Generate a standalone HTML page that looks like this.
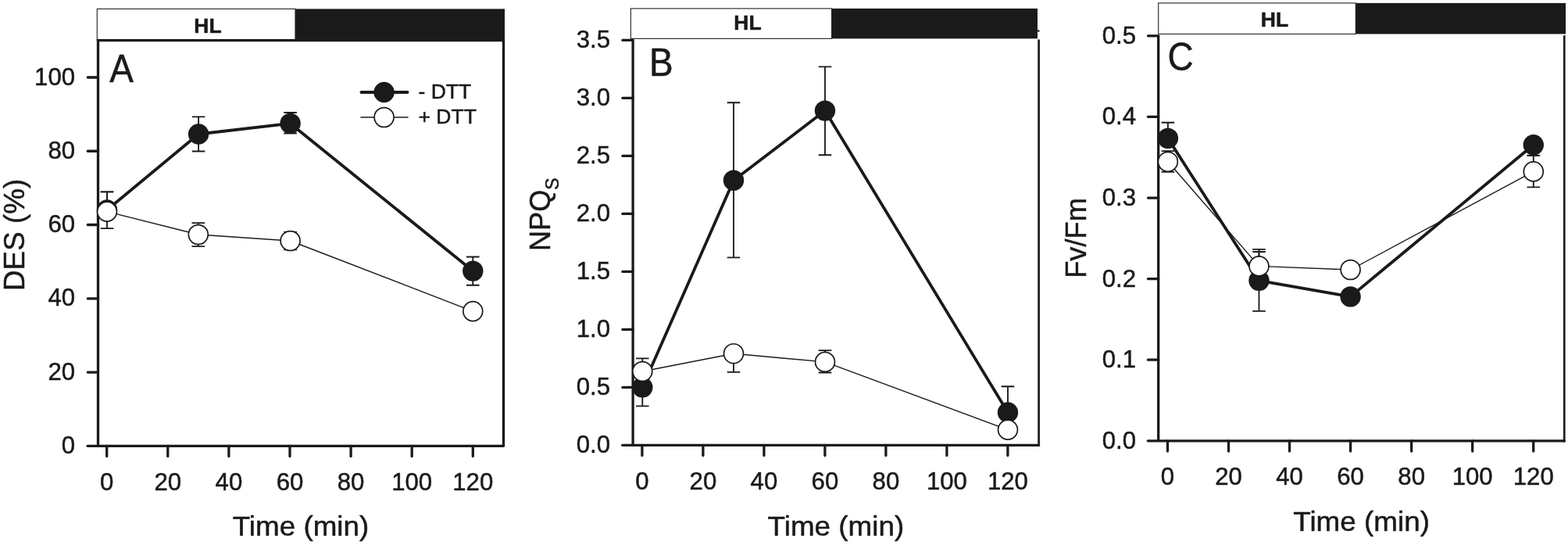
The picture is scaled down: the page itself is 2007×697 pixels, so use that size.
<!DOCTYPE html>
<html><head><meta charset="utf-8"><title>Figure</title>
<style>html,body{margin:0;padding:0;background:#fff;overflow:hidden}svg{display:block}text{font-family:"Liberation Sans",Arial,Helvetica,sans-serif;fill:#1a1a1a;stroke:#1a1a1a;stroke-width:.5px;stroke-linejoin:round}</style>
</head><body>
<svg width="2007" height="697" viewBox="0 0 2007 697">
<rect width="2007" height="697" fill="#fff"/>
<g>
<rect x="124.3" y="11.4" width="253.7" height="40.3" fill="#fff" stroke="#333" stroke-width="1.2"/>
<rect x="378" y="11.4" width="268" height="40.3" fill="#1a1a1a"/>
<text transform="translate(266 42.2) scale(1.02 1)" font-size="26" text-anchor="middle" font-weight="bold">HL</text>
<path d="M125.5 570.3 V51.7 H644.5 V570.3" fill="none" stroke="#1a1a1a" stroke-width="3.3" stroke-linejoin="miter"/>
<path d="M112.1 570.3 H644.5" fill="none" stroke="#1a1a1a" stroke-width="3.3" stroke-linecap="round"/>
<text transform="translate(96.1 579.8) scale(0.975 1)" font-size="32" text-anchor="end">0</text>
<path d="M112.3 476.04 H125.5" stroke="#1a1a1a" stroke-width="3.3" stroke-linecap="round"/>
<text transform="translate(96.1 485.54) scale(0.975 1)" font-size="32" text-anchor="end">20</text>
<path d="M112.3 381.78 H125.5" stroke="#1a1a1a" stroke-width="3.3" stroke-linecap="round"/>
<text transform="translate(96.1 391.28) scale(0.975 1)" font-size="32" text-anchor="end">40</text>
<path d="M112.3 287.52 H125.5" stroke="#1a1a1a" stroke-width="3.3" stroke-linecap="round"/>
<text transform="translate(96.1 297.02) scale(0.975 1)" font-size="32" text-anchor="end">60</text>
<path d="M112.3 193.26 H125.5" stroke="#1a1a1a" stroke-width="3.3" stroke-linecap="round"/>
<text transform="translate(96.1 202.76) scale(0.975 1)" font-size="32" text-anchor="end">80</text>
<path d="M112.3 99 H125.5" stroke="#1a1a1a" stroke-width="3.3" stroke-linecap="round"/>
<text transform="translate(96.1 108.5) scale(0.975 1)" font-size="32" text-anchor="end">100</text>
<path d="M136.7 570.3 V583.5" stroke="#1a1a1a" stroke-width="3.3" stroke-linecap="round"/>
<text transform="translate(136.7 627) scale(0.975 1)" font-size="32" text-anchor="middle">0</text>
<path d="M214.8 570.3 V583.5" stroke="#1a1a1a" stroke-width="3.3" stroke-linecap="round"/>
<text transform="translate(214.8 627) scale(0.975 1)" font-size="32" text-anchor="middle">20</text>
<path d="M292.9 570.3 V583.5" stroke="#1a1a1a" stroke-width="3.3" stroke-linecap="round"/>
<text transform="translate(292.9 627) scale(0.975 1)" font-size="32" text-anchor="middle">40</text>
<path d="M371 570.3 V583.5" stroke="#1a1a1a" stroke-width="3.3" stroke-linecap="round"/>
<text transform="translate(371 627) scale(0.975 1)" font-size="32" text-anchor="middle">60</text>
<path d="M449.1 570.3 V583.5" stroke="#1a1a1a" stroke-width="3.3" stroke-linecap="round"/>
<text transform="translate(449.1 627) scale(0.975 1)" font-size="32" text-anchor="middle">80</text>
<path d="M527.2 570.3 V583.5" stroke="#1a1a1a" stroke-width="3.3" stroke-linecap="round"/>
<text transform="translate(527.2 627) scale(0.975 1)" font-size="32" text-anchor="middle">100</text>
<path d="M605.3 570.3 V583.5" stroke="#1a1a1a" stroke-width="3.3" stroke-linecap="round"/>
<text transform="translate(605.3 627) scale(0.975 1)" font-size="32" text-anchor="middle">120</text>
<text transform="translate(385 685.4) scale(1.035 1)" font-size="35.6" text-anchor="middle">Time (min)</text>
<text transform="translate(30.8 372) rotate(-90) scale(0.977 1)" font-size="37.7">DES (%)</text>
<text transform="translate(140.3 105.2) scale(0.92 1)" font-size="50" stroke-width="0.2">A</text>
<path d="M137 268.5 L254.1 171.5 L371.6 157.9 L605.3 346.6" fill="none" stroke="#1a1a1a" stroke-width="3.8" stroke-linejoin="round" stroke-linecap="round"/>
<path d="M137 268.5 V245.4 M128.7 245.4 H145.3" fill="none" stroke="#1a1a1a" stroke-width="1.85"/>
<path d="M254.1 171.5 V149.4 M245.8 149.4 H262.4" fill="none" stroke="#1a1a1a" stroke-width="1.85"/>
<path d="M254.1 171.5 V193.5 M245.8 193.5 H262.4" fill="none" stroke="#1a1a1a" stroke-width="1.85"/>
<path d="M371.6 157.9 V144 M363.3 144 H379.9" fill="none" stroke="#1a1a1a" stroke-width="1.85"/>
<path d="M371.6 157.9 V170.5 M363.3 170.5 H379.9" fill="none" stroke="#1a1a1a" stroke-width="1.85"/>
<path d="M605.3 346.6 V328.5 M597 328.5 H613.6" fill="none" stroke="#1a1a1a" stroke-width="1.85"/>
<path d="M605.3 346.6 V364.7 M597 364.7 H613.6" fill="none" stroke="#1a1a1a" stroke-width="1.85"/>
<circle cx="137" cy="268.5" r="13.2" fill="#1a1a1a"/>
<circle cx="254.1" cy="171.5" r="13.2" fill="#1a1a1a"/>
<circle cx="371.6" cy="157.9" r="13.2" fill="#1a1a1a"/>
<circle cx="605.3" cy="346.6" r="13.2" fill="#1a1a1a"/>
<path d="M137 270.6 L253.8 300 L371.6 308 L605.3 398.1" fill="none" stroke="#1a1a1a" stroke-width="1.4" stroke-linejoin="round" stroke-linecap="round"/>
<path d="M137 270.6 V245.4 M128.7 245.4 H145.3" fill="none" stroke="#1a1a1a" stroke-width="1.85"/>
<path d="M137 270.6 V292.1 M128.7 292.1 H145.3" fill="none" stroke="#1a1a1a" stroke-width="1.85"/>
<path d="M253.8 300 V285.1 M245.5 285.1 H262.1" fill="none" stroke="#1a1a1a" stroke-width="1.85"/>
<path d="M253.8 300 V315.1 M245.5 315.1 H262.1" fill="none" stroke="#1a1a1a" stroke-width="1.85"/>
<path d="M371.6 308 V296.7 M363.3 296.7 H379.9" fill="none" stroke="#1a1a1a" stroke-width="1.85"/>
<path d="M371.6 308 V319.4 M363.3 319.4 H379.9" fill="none" stroke="#1a1a1a" stroke-width="1.85"/>
<circle cx="137" cy="270.6" r="12.45" fill="#fff" stroke="#1a1a1a" stroke-width="1.7"/>
<circle cx="253.8" cy="300" r="12.45" fill="#fff" stroke="#1a1a1a" stroke-width="1.7"/>
<circle cx="371.6" cy="308" r="12.45" fill="#fff" stroke="#1a1a1a" stroke-width="1.7"/>
<circle cx="605.3" cy="398.1" r="12.45" fill="#fff" stroke="#1a1a1a" stroke-width="1.7"/>
</g>
<g>
<rect x="807.4" y="10.9" width="257.2" height="38.5" fill="#fff" stroke="#333" stroke-width="1.2"/>
<rect x="1064.6" y="10.9" width="263.4" height="38.5" fill="#1a1a1a"/>
<text transform="translate(957 38.1) scale(1.02 1)" font-size="26" text-anchor="middle" font-weight="bold">HL</text>
<path d="M810.1 569.4 V50.5" fill="none" stroke="#1a1a1a" stroke-width="3.3"/>
<path d="M1329.6 571.05 V50.5" fill="none" stroke="#1a1a1a" stroke-width="2.7"/>
<path d="M796.7 569.4 H1329.6" fill="none" stroke="#1a1a1a" stroke-width="3.3" stroke-linecap="round"/>
<text transform="translate(781 578.7) scale(0.975 1)" font-size="32" text-anchor="end">0.0</text>
<path d="M796.9 495.4 H810.1" stroke="#1a1a1a" stroke-width="3.3" stroke-linecap="round"/>
<text transform="translate(781 504.7) scale(0.975 1)" font-size="32" text-anchor="end">0.5</text>
<path d="M796.9 421.4 H810.1" stroke="#1a1a1a" stroke-width="3.3" stroke-linecap="round"/>
<text transform="translate(781 430.7) scale(0.975 1)" font-size="32" text-anchor="end">1.0</text>
<path d="M796.9 347.4 H810.1" stroke="#1a1a1a" stroke-width="3.3" stroke-linecap="round"/>
<text transform="translate(781 356.7) scale(0.975 1)" font-size="32" text-anchor="end">1.5</text>
<path d="M796.9 273.4 H810.1" stroke="#1a1a1a" stroke-width="3.3" stroke-linecap="round"/>
<text transform="translate(781 282.7) scale(0.975 1)" font-size="32" text-anchor="end">2.0</text>
<path d="M796.9 199.4 H810.1" stroke="#1a1a1a" stroke-width="3.3" stroke-linecap="round"/>
<text transform="translate(781 208.7) scale(0.975 1)" font-size="32" text-anchor="end">2.5</text>
<path d="M796.9 125.4 H810.1" stroke="#1a1a1a" stroke-width="3.3" stroke-linecap="round"/>
<text transform="translate(781 134.7) scale(0.975 1)" font-size="32" text-anchor="end">3.0</text>
<path d="M796.9 51.4 H810.1" stroke="#1a1a1a" stroke-width="3.3" stroke-linecap="round"/>
<text transform="translate(781 60.7) scale(0.975 1)" font-size="32" text-anchor="end">3.5</text>
<path d="M821.9 569.4 V582.6" stroke="#1a1a1a" stroke-width="3.3" stroke-linecap="round"/>
<text transform="translate(821.9 625.8) scale(0.975 1)" font-size="32" text-anchor="middle">0</text>
<path d="M899.9 569.4 V582.6" stroke="#1a1a1a" stroke-width="3.3" stroke-linecap="round"/>
<text transform="translate(899.9 625.8) scale(0.975 1)" font-size="32" text-anchor="middle">20</text>
<path d="M977.9 569.4 V582.6" stroke="#1a1a1a" stroke-width="3.3" stroke-linecap="round"/>
<text transform="translate(977.9 625.8) scale(0.975 1)" font-size="32" text-anchor="middle">40</text>
<path d="M1055.9 569.4 V582.6" stroke="#1a1a1a" stroke-width="3.3" stroke-linecap="round"/>
<text transform="translate(1055.9 625.8) scale(0.975 1)" font-size="32" text-anchor="middle">60</text>
<path d="M1133.9 569.4 V582.6" stroke="#1a1a1a" stroke-width="3.3" stroke-linecap="round"/>
<text transform="translate(1133.9 625.8) scale(0.975 1)" font-size="32" text-anchor="middle">80</text>
<path d="M1211.9 569.4 V582.6" stroke="#1a1a1a" stroke-width="3.3" stroke-linecap="round"/>
<text transform="translate(1211.9 625.8) scale(0.975 1)" font-size="32" text-anchor="middle">100</text>
<path d="M1289.9 569.4 V582.6" stroke="#1a1a1a" stroke-width="3.3" stroke-linecap="round"/>
<text transform="translate(1289.9 625.8) scale(0.975 1)" font-size="32" text-anchor="middle">120</text>
<text transform="translate(1069.9 684.9) scale(1.035 1)" font-size="35.6" text-anchor="middle">Time (min)</text>
<text transform="translate(703.9 321) rotate(-90) scale(0.958 1)" font-size="37.7">NPQ<tspan font-size="24" dy="11">S</tspan></text>
<text transform="translate(831 97.3) scale(0.92 1)" font-size="50" stroke-width="0.2">B</text>
<path d="M822.3 495.3 L939 230.7 L1056 141.6 L1290 527.5" fill="none" stroke="#1a1a1a" stroke-width="3.8" stroke-linejoin="round" stroke-linecap="round"/>
<path d="M822.3 495.3 V519.3 M814 519.3 H830.6" fill="none" stroke="#1a1a1a" stroke-width="1.85"/>
<path d="M939 230.7 V131.2 M930.7 131.2 H947.3" fill="none" stroke="#1a1a1a" stroke-width="1.85"/>
<path d="M939 230.7 V329.3 M930.7 329.3 H947.3" fill="none" stroke="#1a1a1a" stroke-width="1.85"/>
<path d="M1056 141.6 V85.3 M1047.7 85.3 H1064.3" fill="none" stroke="#1a1a1a" stroke-width="1.85"/>
<path d="M1056 141.6 V198.2 M1047.7 198.2 H1064.3" fill="none" stroke="#1a1a1a" stroke-width="1.85"/>
<path d="M1290 527.5 V494.2 M1281.7 494.2 H1298.3" fill="none" stroke="#1a1a1a" stroke-width="1.85"/>
<circle cx="822.3" cy="495.3" r="13.2" fill="#1a1a1a"/>
<circle cx="939" cy="230.7" r="13.2" fill="#1a1a1a"/>
<circle cx="1056" cy="141.6" r="13.2" fill="#1a1a1a"/>
<circle cx="1290" cy="527.5" r="13.2" fill="#1a1a1a"/>
<path d="M822.3 475 L939 452.2 L1056 462.9 L1290 549.6" fill="none" stroke="#1a1a1a" stroke-width="1.4" stroke-linejoin="round" stroke-linecap="round"/>
<path d="M822.3 475 V458.4 M814 458.4 H830.6" fill="none" stroke="#1a1a1a" stroke-width="1.85"/>
<path d="M939 452.2 V475.8 M930.7 475.8 H947.3" fill="none" stroke="#1a1a1a" stroke-width="1.85"/>
<path d="M1056 462.9 V448.1 M1047.7 448.1 H1064.3" fill="none" stroke="#1a1a1a" stroke-width="1.85"/>
<path d="M1056 462.9 V476.5 M1047.7 476.5 H1064.3" fill="none" stroke="#1a1a1a" stroke-width="1.85"/>
<circle cx="822.3" cy="475" r="12.45" fill="#fff" stroke="#1a1a1a" stroke-width="1.7"/>
<circle cx="939" cy="452.2" r="12.45" fill="#fff" stroke="#1a1a1a" stroke-width="1.7"/>
<circle cx="1056" cy="462.9" r="12.45" fill="#fff" stroke="#1a1a1a" stroke-width="1.7"/>
<circle cx="1290" cy="549.6" r="12.45" fill="#fff" stroke="#1a1a1a" stroke-width="1.7"/>
</g>
<g>
<rect x="1482.7" y="3.9" width="252.6" height="39.6" fill="#fff" stroke="#333" stroke-width="1.2"/>
<rect x="1735.3" y="3.9" width="268.7" height="39.6" fill="#1a1a1a"/>
<text transform="translate(1631.5 34.1) scale(1.02 1)" font-size="26" text-anchor="middle" font-weight="bold">HL</text>
<path d="M1482.7 563.8 V45.3" fill="none" stroke="#1a1a1a" stroke-width="3.3"/>
<path d="M2002.3 565.45 V45.3" fill="none" stroke="#1a1a1a" stroke-width="2.6"/>
<path d="M1469.3 563.8 H2002.3" fill="none" stroke="#1a1a1a" stroke-width="3.3" stroke-linecap="round"/>
<text transform="translate(1454 573.8) scale(0.975 1)" font-size="32" text-anchor="end">0.0</text>
<path d="M1469.5 460.21 H1482.7" stroke="#1a1a1a" stroke-width="3.3" stroke-linecap="round"/>
<text transform="translate(1454 470.21) scale(0.975 1)" font-size="32" text-anchor="end">0.1</text>
<path d="M1469.5 356.62 H1482.7" stroke="#1a1a1a" stroke-width="3.3" stroke-linecap="round"/>
<text transform="translate(1454 366.62) scale(0.975 1)" font-size="32" text-anchor="end">0.2</text>
<path d="M1469.5 253.03 H1482.7" stroke="#1a1a1a" stroke-width="3.3" stroke-linecap="round"/>
<text transform="translate(1454 263.03) scale(0.975 1)" font-size="32" text-anchor="end">0.3</text>
<path d="M1469.5 149.44 H1482.7" stroke="#1a1a1a" stroke-width="3.3" stroke-linecap="round"/>
<text transform="translate(1454 159.44) scale(0.975 1)" font-size="32" text-anchor="end">0.4</text>
<path d="M1469.5 45.85 H1482.7" stroke="#1a1a1a" stroke-width="3.3" stroke-linecap="round"/>
<text transform="translate(1454 55.85) scale(0.975 1)" font-size="32" text-anchor="end">0.5</text>
<path d="M1494.5 563.8 V577" stroke="#1a1a1a" stroke-width="3.3" stroke-linecap="round"/>
<text transform="translate(1494.5 619.8) scale(0.975 1)" font-size="32" text-anchor="middle">0</text>
<path d="M1572.54 563.8 V577" stroke="#1a1a1a" stroke-width="3.3" stroke-linecap="round"/>
<text transform="translate(1572.54 619.8) scale(0.975 1)" font-size="32" text-anchor="middle">20</text>
<path d="M1650.58 563.8 V577" stroke="#1a1a1a" stroke-width="3.3" stroke-linecap="round"/>
<text transform="translate(1650.58 619.8) scale(0.975 1)" font-size="32" text-anchor="middle">40</text>
<path d="M1728.62 563.8 V577" stroke="#1a1a1a" stroke-width="3.3" stroke-linecap="round"/>
<text transform="translate(1728.62 619.8) scale(0.975 1)" font-size="32" text-anchor="middle">60</text>
<path d="M1806.66 563.8 V577" stroke="#1a1a1a" stroke-width="3.3" stroke-linecap="round"/>
<text transform="translate(1806.66 619.8) scale(0.975 1)" font-size="32" text-anchor="middle">80</text>
<path d="M1884.7 563.8 V577" stroke="#1a1a1a" stroke-width="3.3" stroke-linecap="round"/>
<text transform="translate(1884.7 619.8) scale(0.975 1)" font-size="32" text-anchor="middle">100</text>
<path d="M1962.74 563.8 V577" stroke="#1a1a1a" stroke-width="3.3" stroke-linecap="round"/>
<text transform="translate(1962.74 619.8) scale(0.975 1)" font-size="32" text-anchor="middle">120</text>
<text transform="translate(1742.6 679.3) scale(1.035 1)" font-size="35.6" text-anchor="middle">Time (min)</text>
<text transform="translate(1389.9 355.8) rotate(-90) scale(0.962 1)" font-size="37.7">Fv/Fm</text>
<text transform="translate(1494.6 89.8) scale(0.92 1)" font-size="50" stroke-width="0.2">C</text>
<path d="M1494.9 176.9 L1611.5 358.8 L1728.6 379.4 L1962.8 185.3" fill="none" stroke="#1a1a1a" stroke-width="3.8" stroke-linejoin="round" stroke-linecap="round"/>
<path d="M1494.9 176.9 V156.7 M1486.6 156.7 H1503.2" fill="none" stroke="#1a1a1a" stroke-width="1.85"/>
<path d="M1611.5 358.8 V318.8 M1603.2 318.8 H1619.8" fill="none" stroke="#1a1a1a" stroke-width="1.85"/>
<path d="M1611.5 358.8 V397.8 M1603.2 397.8 H1619.8" fill="none" stroke="#1a1a1a" stroke-width="1.85"/>
<path d="M1962.8 185.3 V198.9 M1954.5 198.9 H1971.1" fill="none" stroke="#1a1a1a" stroke-width="1.85"/>
<circle cx="1494.9" cy="176.9" r="13.2" fill="#1a1a1a"/>
<circle cx="1611.5" cy="358.8" r="13.2" fill="#1a1a1a"/>
<circle cx="1728.6" cy="379.4" r="13.2" fill="#1a1a1a"/>
<circle cx="1962.8" cy="185.3" r="13.2" fill="#1a1a1a"/>
<path d="M1494.9 206.8 L1611.5 340.4 L1728.6 345 L1962.8 219.4" fill="none" stroke="#1a1a1a" stroke-width="1.4" stroke-linejoin="round" stroke-linecap="round"/>
<path d="M1494.9 206.8 V193.1 M1486.6 193.1 H1503.2" fill="none" stroke="#1a1a1a" stroke-width="1.85"/>
<path d="M1494.9 206.8 V219.9 M1486.6 219.9 H1503.2" fill="none" stroke="#1a1a1a" stroke-width="1.85"/>
<path d="M1611.5 340.4 V322 M1603.2 322 H1619.8" fill="none" stroke="#1a1a1a" stroke-width="1.85"/>
<path d="M1962.8 219.4 V198.9 M1954.5 198.9 H1971.1" fill="none" stroke="#1a1a1a" stroke-width="1.85"/>
<path d="M1962.8 219.4 V239.3 M1954.5 239.3 H1971.1" fill="none" stroke="#1a1a1a" stroke-width="1.85"/>
<circle cx="1494.9" cy="206.8" r="12.45" fill="#fff" stroke="#1a1a1a" stroke-width="1.7"/>
<circle cx="1611.5" cy="340.4" r="12.45" fill="#fff" stroke="#1a1a1a" stroke-width="1.7"/>
<circle cx="1728.6" cy="345" r="12.45" fill="#fff" stroke="#1a1a1a" stroke-width="1.7"/>
<circle cx="1962.8" cy="219.4" r="12.45" fill="#fff" stroke="#1a1a1a" stroke-width="1.7"/>
</g>
<path d="M462.5 118 H521.5" stroke="#1a1a1a" stroke-width="4" stroke-linecap="round"/>
<circle cx="491.6" cy="118" r="13.2" fill="#1a1a1a"/>
<path d="M462 150 H522" stroke="#1a1a1a" stroke-width="1.5" stroke-linecap="round"/>
<circle cx="491.6" cy="150" r="12.45" fill="#fff" stroke="#1a1a1a" stroke-width="1.7"/>
<text transform="translate(535.5 126.4) scale(1.02 1)" font-size="26">- DTT</text>
<text transform="translate(535.5 158.4) scale(1.02 1)" font-size="26">+ DTT</text>
<circle cx="1329.3" cy="39.6" r="1.3" fill="#1a1a1a"/>
</svg></body></html>
